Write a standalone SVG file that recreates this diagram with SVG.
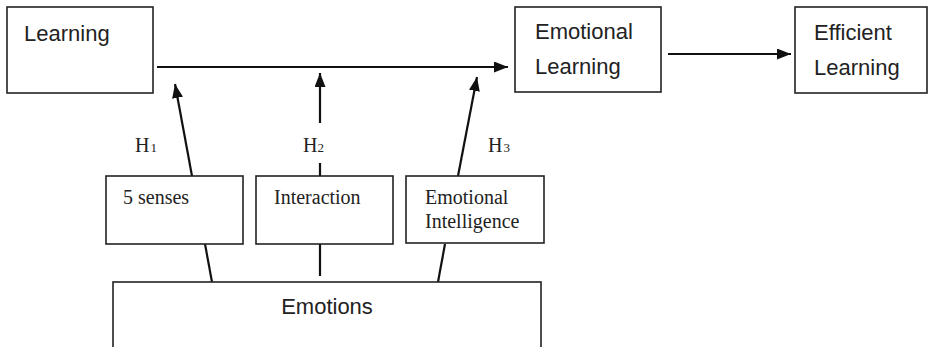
<svg xmlns="http://www.w3.org/2000/svg" width="929" height="347" viewBox="0 0 929 347">
<style>
.box{fill:#fff;stroke:#222;stroke-width:1.6}
.sans{font-family:"Liberation Sans","Open Sans",sans-serif;font-size:22px;fill:#222}
.serif{font-family:"Liberation Serif","DejaVu Serif",serif;font-size:20px;fill:#222}
.hl{font-family:"Liberation Serif","DejaVu Serif",serif;font-size:20px;fill:#222}
.sub{font-size:13px}
.con{stroke:#111;stroke-width:2.2;fill:none}
</style>
<defs>
<marker id="ah" viewBox="0 0 14 11" refX="14" refY="5.5" markerWidth="14" markerHeight="11" markerUnits="userSpaceOnUse" orient="auto">
<path d="M0,0 L14,5.5 L0,11 Z" fill="#111"/>
</marker>
</defs>
<rect width="929" height="347" fill="#fff"/>
<g id="learning">
<rect class="box" x="7" y="7" width="146" height="86"/>
<text class="sans" x="24" y="41">Learning</text>
</g>
<g id="emotional-learning">
<rect class="box" x="515" y="7" width="146" height="85"/>
<text class="sans" x="535" y="39">Emotional</text>
<text class="sans" x="535" y="74">Learning</text>
</g>
<g id="efficient-learning">
<rect class="box" x="795" y="7" width="132" height="86"/>
<text class="sans" x="814" y="40">Efficient</text>
<text class="sans" x="814" y="75">Learning</text>
</g>
<g id="connectors">
<line class="con" x1="157" y1="67" x2="508" y2="67" marker-end="url(#ah)"/>
<line class="con" x1="668" y1="54" x2="791" y2="54" marker-end="url(#ah)"/>
<line class="con" x1="192" y1="176" x2="175" y2="84" marker-end="url(#ah)"/>
<line class="con" x1="320" y1="176" x2="320" y2="73" marker-end="url(#ah)"/>
<line class="con" x1="458" y1="176" x2="477" y2="77" marker-end="url(#ah)"/>
<line class="con" x1="205" y1="244" x2="212" y2="282"/>
<line class="con" x1="320" y1="244" x2="320" y2="276"/>
<line class="con" x1="445" y1="244" x2="438" y2="282"/>
</g>
<g id="h1"><text class="hl" x="135" y="152">H<tspan class="sub" dx="1">1</tspan></text></g>
<g id="h2"><rect x="300" y="123" width="40" height="40" fill="#fff"/><text class="hl" x="303" y="152">H<tspan class="sub" dx="0">2</tspan></text></g>
<g id="h3"><text class="hl" x="488" y="152">H<tspan class="sub" dx="1">3</tspan></text></g>
<g id="senses">
<rect class="box" x="106" y="176" width="137" height="68"/>
<text class="serif" x="123" y="204">5 senses</text>
</g>
<g id="interaction">
<rect class="box" x="256" y="176" width="137" height="68"/>
<text class="serif" x="274" y="204">Interaction</text>
</g>
<g id="emotional-intelligence">
<rect class="box" x="406" y="176" width="138" height="67"/>
<text class="serif" x="425" y="204">Emotional</text>
<text class="serif" x="425" y="228">Intelligence</text>
</g>
<g id="emotions">
<rect class="box" x="113" y="282" width="428" height="80"/>
<text class="sans" x="327" y="314" text-anchor="middle">Emotions</text>
</g>
</svg>
